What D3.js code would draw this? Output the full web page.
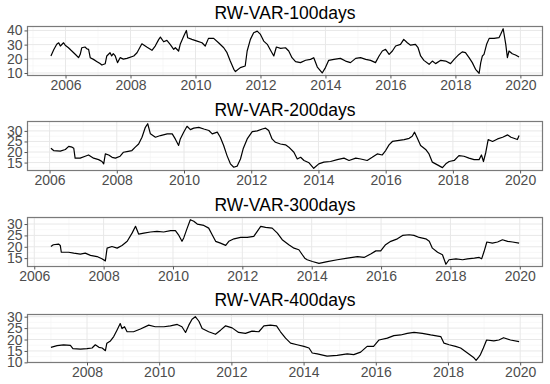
<!DOCTYPE html>
<html>
<head>
<meta charset="utf-8">
<script src="https://cdn.jsdelivr.net/npm/d3@7"></script>
<style>
body { margin: 0; background: #fff; }
text { font-family: "Liberation Sans", Arial, sans-serif; }
</style>
</head>
<body>
<svg id="chart" width="550" height="384"></svg>
<script>
// Data: [decimal year, value]
var titles = ["RW-VAR-100days", "RW-VAR-200days", "RW-VAR-300days", "RW-VAR-400days"];

var var100 = [
  [2005.55,22.0],[2005.64,26.5],[2005.73,30.2],[2005.79,31.3],[2005.84,29.0],[2005.94,31.3],[2005.99,29.6],[2006.09,27.8],
  [2006.17,26.0],[2006.25,24.3],[2006.33,22.5],[2006.40,20.8],[2006.45,23.0],[2006.50,27.8],[2006.60,28.3],[2006.66,27.0],
  [2006.71,26.7],[2006.76,20.8],[2006.86,19.6],[2006.97,18.0],[2007.05,16.8],[2007.12,15.6],[2007.22,16.5],[2007.27,22.0],
  [2007.37,24.3],[2007.42,22.0],[2007.47,23.6],[2007.53,22.0],[2007.60,17.3],[2007.68,20.8],[2007.78,19.8],[2007.89,20.3],
  [2008.10,22.0],[2008.20,24.3],[2008.35,30.6],[2008.50,28.3],[2008.66,26.0],[2008.76,29.0],[2008.87,33.7],[2008.92,35.3],
  [2009.02,32.0],[2009.12,33.0],[2009.22,30.2],[2009.33,26.7],[2009.38,27.8],[2009.48,25.5],[2009.53,30.2],[2009.64,36.0],
  [2009.72,40.0],[2009.76,34.8],[2009.89,33.7],[2010.05,32.5],[2010.20,31.3],[2010.30,29.0],[2010.40,34.4],[2010.56,34.4],
  [2010.71,31.3],[2010.87,27.8],[2010.97,24.3],[2011.07,18.4],[2011.18,12.6],[2011.23,11.0],[2011.38,13.8],[2011.53,14.9],
  [2011.59,25.5],[2011.69,33.7],[2011.79,38.4],[2011.90,39.5],[2012.00,37.2],[2012.10,32.5],[2012.21,30.2],[2012.31,26.0],
  [2012.41,22.0],[2012.49,28.3],[2012.62,27.4],[2012.77,27.8],[2012.87,25.5],[2012.97,20.8],[2013.08,18.0],[2013.23,17.3],
  [2013.39,19.0],[2013.54,19.6],[2013.64,20.8],[2013.75,14.2],[2013.90,10.0],[2014.00,13.8],[2014.10,18.9],[2014.26,19.6],
  [2014.46,20.3],[2014.62,18.4],[2014.77,17.3],[2014.93,20.3],[2015.08,20.8],[2015.24,19.6],[2015.39,18.9],[2015.54,17.3],
  [2015.65,22.0],[2015.75,25.5],[2015.85,26.7],[2015.96,23.1],[2016.06,25.5],[2016.16,29.0],[2016.31,30.2],[2016.41,33.7],
  [2016.52,31.3],[2016.62,29.6],[2016.77,30.2],[2016.85,27.8],[2016.93,22.0],[2017.03,18.9],[2017.19,16.1],[2017.29,18.4],
  [2017.39,16.6],[2017.55,18.9],[2017.70,18.4],[2017.85,16.6],[2017.96,19.6],[2018.11,23.1],[2018.21,24.9],[2018.31,24.3],
  [2018.42,20.8],[2018.52,17.3],[2018.62,12.6],[2018.73,9.8],[2018.78,17.3],[2018.83,22.0],[2018.88,23.1],[2018.96,30.2],
  [2019.04,34.4],[2019.19,34.4],[2019.34,34.9],[2019.39,37.2],[2019.47,41.2],[2019.55,30.2],[2019.60,20.8],[2019.65,25.5],
  [2019.75,23.6],[2019.85,22.7],[2019.96,21.3]
];

var var200 = [
  [2006.04,21.8],[2006.12,20.7],[2006.32,20.4],[2006.47,21.2],[2006.57,22.7],[2006.67,22.3],[2006.72,21.8],[2006.76,17.1],
  [2006.91,17.1],[2007.06,18.0],[2007.16,18.6],[2007.31,17.1],[2007.46,16.4],[2007.56,15.5],[2007.61,14.4],[2007.66,19.1],
  [2007.76,18.6],[2007.86,17.5],[2007.96,17.1],[2008.10,18.0],[2008.20,19.9],[2008.30,20.2],[2008.45,20.7],[2008.55,22.3],
  [2008.65,23.8],[2008.75,27.0],[2008.85,31.7],[2008.92,33.4],[2009.00,28.6],[2009.15,27.0],[2009.30,27.8],[2009.50,28.6],
  [2009.65,28.6],[2009.74,26.2],[2009.84,23.1],[2009.89,26.2],[2009.99,29.4],[2010.09,32.2],[2010.19,30.6],[2010.29,31.3],
  [2010.44,31.7],[2010.59,30.9],[2010.74,30.2],[2010.84,28.6],[2010.99,29.4],[2011.08,27.0],[2011.18,23.1],[2011.28,18.3],
  [2011.38,14.4],[2011.48,12.8],[2011.58,13.3],[2011.68,16.7],[2011.76,21.5],[2011.88,26.2],[2012.03,29.7],[2012.18,30.0],
  [2012.33,30.9],[2012.43,31.3],[2012.52,30.2],[2012.62,26.2],[2012.72,24.6],[2012.87,23.8],[2013.02,23.4],[2013.12,22.3],
  [2013.27,19.9],[2013.37,16.7],[2013.47,17.5],[2013.57,16.0],[2013.72,14.9],[2013.86,12.3],[2014.01,14.4],[2014.16,15.2],
  [2014.36,15.5],[2014.56,16.4],[2014.76,17.1],[2014.91,16.0],[2015.11,17.1],[2015.26,16.7],[2015.45,16.0],[2015.60,17.5],
  [2015.75,19.1],[2015.90,18.6],[2016.00,20.7],[2016.10,23.4],[2016.20,25.0],[2016.35,25.4],[2016.55,25.9],[2016.70,26.5],
  [2016.79,27.5],[2016.86,29.4],[2016.93,27.0],[2017.04,23.1],[2017.19,21.2],[2017.29,19.1],[2017.39,15.2],[2017.54,13.9],
  [2017.69,12.6],[2017.79,14.4],[2017.89,15.5],[2018.04,16.0],[2018.18,18.3],[2018.33,18.0],[2018.48,17.1],[2018.63,16.4],
  [2018.78,16.4],[2018.85,18.6],[2018.91,15.5],[2018.98,19.9],[2019.05,25.9],[2019.18,25.0],[2019.33,26.2],[2019.48,27.0],
  [2019.63,28.1],[2019.73,27.0],[2019.92,25.9],[2019.97,27.8]
];

var var300 = [
  [2006.48,20.1],[2006.55,20.9],[2006.70,21.2],[2006.75,20.6],[2006.78,17.6],[2006.99,17.6],[2007.14,17.2],[2007.33,16.8],
  [2007.47,17.2],[2007.62,16.2],[2007.81,15.7],[2007.95,14.7],[2008.05,13.8],[2008.10,19.4],[2008.24,20.1],[2008.39,19.4],
  [2008.53,20.6],[2008.68,22.4],[2008.82,26.0],[2008.92,29.0],[2009.01,25.6],[2009.16,26.0],[2009.35,26.5],[2009.54,26.8],
  [2009.73,26.5],[2009.93,27.1],[2010.07,27.1],[2010.17,25.0],[2010.26,22.4],[2010.31,23.9],[2010.41,28.2],[2010.50,31.9],
  [2010.60,31.2],[2010.70,30.0],[2010.89,29.4],[2011.03,28.2],[2011.13,25.3],[2011.23,22.4],[2011.37,21.6],[2011.52,20.6],
  [2011.61,22.4],[2011.76,23.5],[2011.95,24.1],[2012.14,24.1],[2012.33,24.6],[2012.43,26.8],[2012.53,29.0],[2012.67,28.5],
  [2012.86,28.2],[2013.01,26.0],[2013.15,23.1],[2013.34,20.9],[2013.49,19.4],[2013.63,18.7],[2013.73,16.5],[2013.80,15.0],
  [2013.87,14.3],[2014.02,13.5],[2014.21,12.7],[2014.45,13.5],[2014.74,14.3],[2015.03,15.0],[2015.32,15.7],[2015.51,15.3],
  [2015.70,16.8],[2015.85,18.2],[2015.99,18.2],[2016.13,20.9],[2016.28,22.4],[2016.47,23.5],[2016.62,25.0],[2016.81,25.3],
  [2016.95,25.0],[2017.10,24.1],[2017.29,23.5],[2017.39,22.4],[2017.48,19.4],[2017.63,17.6],[2017.77,16.5],[2017.87,12.3],
  [2017.96,14.3],[2018.16,14.7],[2018.35,14.3],[2018.49,14.7],[2018.69,15.0],[2018.83,15.3],[2018.90,14.7],[2018.97,17.9],
  [2019.05,22.1],[2019.21,21.6],[2019.36,22.1],[2019.50,23.1],[2019.65,22.4],[2019.79,22.1],[2019.98,21.6]
];

var var400 = [
  [2007.00,16.6],[2007.17,17.3],[2007.35,17.7],[2007.54,17.4],[2007.61,16.0],[2007.82,15.8],[2008.00,16.0],[2008.14,16.3],
  [2008.23,17.7],[2008.33,16.6],[2008.42,16.3],[2008.51,15.1],[2008.55,18.4],[2008.65,19.4],[2008.74,21.3],[2008.83,24.1],
  [2008.92,27.0],[2008.97,24.8],[2009.04,25.6],[2009.11,23.4],[2009.29,23.4],[2009.48,24.6],[2009.71,26.3],[2009.89,25.6],
  [2010.13,25.6],[2010.31,26.0],[2010.50,26.6],[2010.63,25.6],[2010.73,23.1],[2010.82,26.3],[2010.91,28.9],[2011.00,30.0],
  [2011.10,28.0],[2011.19,24.8],[2011.37,23.4],[2011.56,22.3],[2011.70,24.1],[2011.84,26.0],[2012.02,25.1],[2012.20,23.1],
  [2012.39,22.7],[2012.57,23.7],[2012.76,23.4],[2012.90,26.0],[2013.08,26.3],[2013.25,26.0],[2013.36,23.4],[2013.50,20.6],
  [2013.64,18.4],[2013.82,17.7],[2014.01,17.0],[2014.15,16.3],[2014.24,14.1],[2014.38,13.7],[2014.65,12.7],[2014.93,13.1],
  [2015.21,13.7],[2015.39,13.4],[2015.58,14.5],[2015.76,17.0],[2015.94,17.0],[2016.09,19.8],[2016.32,20.6],[2016.50,21.7],
  [2016.69,22.0],[2016.87,22.7],[2017.06,23.1],[2017.29,22.7],[2017.52,22.0],[2017.80,21.3],[2017.89,18.4],[2018.03,17.7],
  [2018.21,17.0],[2018.35,16.3],[2018.54,14.1],[2018.72,12.0],[2018.78,10.9],[2018.85,12.3],[2018.90,13.4],[2018.98,16.3],
  [2019.07,19.8],[2019.27,19.4],[2019.41,19.8],[2019.54,20.8],[2019.73,19.8],[2019.97,19.1]
];

var xTicks = [2006, 2008, 2010, 2012, 2014, 2016, 2018, 2020];
var yTicks100 = [10, 20, 30, 40];
var yTicks200 = [15, 20, 25, 30];
var yTicks300 = [15, 20, 25, 30];
var yTicks400 = [10, 15, 20, 25, 30];

var series = [var100, var200, var300, var400];
var yTickSets = [yTicks100, yTicks200, yTicks300, yTicks400];

// Layout
var left = 27.5, right = 542.5;
var layout = [
  {top: 26.5, bottom: 75.5, title: 19},
  {top: 121.5, bottom: 170.5, title: 116},
  {top: 217.5, bottom: 266.5, title: 211},
  {top: 314.5, bottom: 362.5, title: 306}
];

var svg = d3.select("#chart");

// ggplot style 5% padding
function expand(ext) {
  var pad = (ext[1] - ext[0]) * 0.05;
  return [ext[0] - pad, ext[1] + pad];
}

function inside(dom) {
  return function(v) { return v >= dom[0] && v <= dom[1]; };
}

series.forEach(function(data, i) {
  var L = layout[i];
  var x = d3.scaleLinear()
    .domain(expand(d3.extent(data, function(d) { return d[0]; })))
    .range([left, right]);
  var y = d3.scaleLinear()
    .domain(expand(d3.extent(data, function(d) { return d[1]; })))
    .range([L.bottom, L.top]);

  var xMajor = xTicks.filter(inside(x.domain()));
  var xMinor = d3.range(2005, 2022, 2).filter(inside(x.domain()));
  var yMajor = yTickSets[i].filter(inside(y.domain()));
  var step = yMajor[1] - yMajor[0];
  var yMinor = d3.range(yMajor[0] - step / 2, y.domain()[1], step).filter(inside(y.domain()));

  var g = svg.append("g");

  // grid
  g.selectAll(".xminor").data(xMinor).enter().append("line")
    .attr("x1", function(d) { return x(d); }).attr("x2", function(d) { return x(d); })
    .attr("y1", L.top).attr("y2", L.bottom)
    .attr("stroke", "#f3f3f3").attr("stroke-width", 0.6);
  g.selectAll(".yminor").data(yMinor).enter().append("line")
    .attr("x1", left).attr("x2", right)
    .attr("y1", function(d) { return y(d); }).attr("y2", function(d) { return y(d); })
    .attr("stroke", "#f3f3f3").attr("stroke-width", 0.6);
  g.selectAll(".xmajor").data(xMajor).enter().append("line")
    .attr("x1", function(d) { return x(d); }).attr("x2", function(d) { return x(d); })
    .attr("y1", L.top).attr("y2", L.bottom)
    .attr("stroke", "#e8e8e8").attr("stroke-width", 1);
  g.selectAll(".ymajor").data(yMajor).enter().append("line")
    .attr("x1", left).attr("x2", right)
    .attr("y1", function(d) { return y(d); }).attr("y2", function(d) { return y(d); })
    .attr("stroke", "#e8e8e8").attr("stroke-width", 1);

  // series
  var line = d3.line()
    .x(function(d) { return x(d[0]); })
    .y(function(d) { return y(d[1]); });
  g.append("path")
    .datum(data)
    .attr("d", line)
    .attr("fill", "none")
    .attr("stroke", "#000")
    .attr("stroke-width", 1.2)
    .attr("stroke-linejoin", "round");

  // border
  g.append("rect")
    .attr("x", left).attr("y", L.top)
    .attr("width", right - left).attr("height", L.bottom - L.top)
    .attr("fill", "none").attr("stroke", "#7a7a7a").attr("stroke-width", 1.2);

  // axes
  var xAxis = g.append("g")
    .attr("transform", "translate(0," + L.bottom + ")")
    .call(d3.axisBottom(x).tickValues(xMajor).tickSize(3).tickPadding(2).tickFormat(d3.format("d")));
  var yAxis = g.append("g")
    .attr("transform", "translate(" + left + ",0)")
    .call(d3.axisLeft(y).tickValues(yMajor).tickSize(3).tickPadding(2).tickFormat(d3.format("d")));

  [xAxis, yAxis].forEach(function(a) {
    a.select(".domain").remove();
    a.selectAll(".tick line").attr("stroke", "#555");
    a.selectAll(".tick text")
      .attr("fill", "#4d4d4d")
      .style("font-size", "14px")
      .style("font-family", "'Liberation Sans', Arial, sans-serif");
  });

  // title
  g.append("text")
    .attr("x", (left + right) / 2)
    .attr("y", L.title)
    .attr("text-anchor", "middle")
    .style("font-size", "17.5px")
    .attr("fill", "#000")
    .text(titles[i]);
});
</script>
</body>
</html>
